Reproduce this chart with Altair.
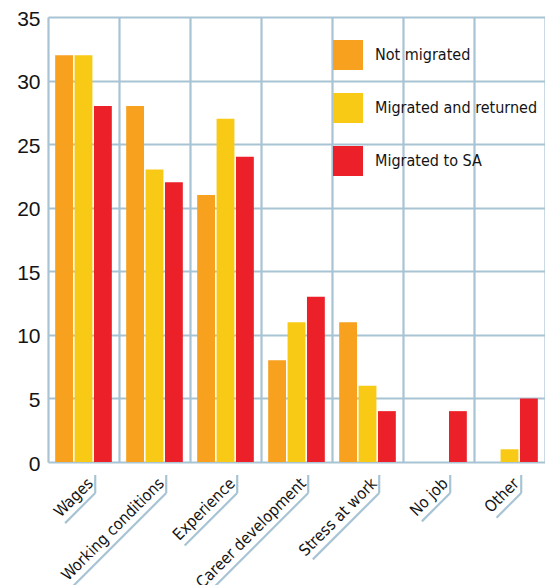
import math
import altair as alt
import pandas as pd

categories = ["Wages", "Working conditions", "Experience", "Career development",
              "Stress at work", "No job", "Other"]
series = ["Not migrated", "Migrated and returned", "Migrated to SA"]
not_migrated = [32, 28, 21, 8, 11, 0, 0]
migrated_returned = [32, 23, 27, 11, 6, 0, 1]
migrated_sa = [28, 22, 24, 13, 4, 4, 5]
colors = ["#F7A11F", "#F8CA16", "#EC2028"]
y_ticks = [0, 5, 10, 15, 20, 25, 30, 35]

GRID = "#A8C4D4"
TEXT = "#141414"
NARROW = "DejaVu Sans Condensed, sans-serif"
REGULAR = "Liberation Sans, Arial, Helvetica, sans-serif"
XFS = 16

W, H = 497, 445
YMAX = 35

rows = []
for s, vals in zip(series, [not_migrated, migrated_returned, migrated_sa]):
    for c, v in zip(categories, vals):
        rows.append({"cat": c, "series": s, "value": v})
df = pd.DataFrame(rows)

# decorative label underline brackets (lengths derived from the label texts)
widths = {"W": .989, "a": .613, "g": .635, "e": .615, "s": .521, "o": .612, "r": .411,
          "k": .579, "i": .278, "n": .634, "c": .55, "d": .635, "t": .392, " ": .318,
          "E": .632, "x": .592, "p": .635, "C": .698, "v": .592, "l": .278, "m": .974,
          "S": .635, "N": .748, "j": .278, "b": .635, "O": .787, "h": .634}
step = W / len(categories)
unit_y = H / YMAX
deco = []
for i, c in enumerate(categories):
    L = sum(widths.get(ch, .6) for ch in c) * 0.9 * XFS
    d = max(L - 6, 10) / math.sqrt(2)
    xv = i + 0.665
    y_top = -13 / unit_y
    y_bot = -31 / unit_y
    deco.append({"x": xv, "x2": xv, "y": y_top, "y2": y_bot})
    deco.append({"x": xv, "x2": xv - d / step, "y": y_bot, "y2": y_bot - d / unit_y})
deco_df = pd.DataFrame(deco)

bars = alt.Chart(df).mark_bar().encode(
    x=alt.X("cat:N", sort=categories,
            scale=alt.Scale(paddingInner=0, paddingOuter=0),
            axis=alt.Axis(title=None, tickBand="extent", grid=True, gridColor=GRID,
                          gridWidth=2.2, ticks=False, domain=False, labelAngle=-45,
                          labelAlign="right", labelBaseline="alphabetic",
                          labelFont=NARROW, labelFontSize=XFS, labelPadding=22,
                          labelOffset=10, labelColor=TEXT, labelOverlap=False,
                          labelLimit=400)),
    xOffset=alt.XOffset("series:N", sort=series,
                        scale=alt.Scale(paddingInner=0.08, paddingOuter=0.37)),
    y=alt.Y("value:Q", scale=alt.Scale(domain=[0, YMAX], nice=False),
            axis=alt.Axis(title=None, values=y_ticks, grid=True, gridColor=GRID,
                          gridWidth=2.2, domain=False, ticks=False, labelFont=REGULAR,
                          labelFontSize=21, labelPadding=8, labelOffset=2,
                          labelColor=TEXT)),
    color=alt.Color("series:N", sort=series,
                    scale=alt.Scale(domain=series, range=colors),
                    legend=alt.Legend(title=None, orient="none", legendX=285, legendY=23,
                                      symbolType="square", symbolSize=900,
                                      symbolStrokeWidth=0, symbolOpacity=1,
                                      labelFont=NARROW, labelFontSize=16,
                                      labelOffset=12, rowPadding=23, padding=0,
                                      labelColor=TEXT, labelLimit=300)),
)

brackets = alt.Chart(deco_df).mark_rule(color=GRID, strokeWidth=2.2, clip=False).encode(
    x=alt.X("x:Q", scale=alt.Scale(domain=[0, len(categories)], nice=False, zero=False),
            axis=None),
    x2="x2:Q",
    y=alt.Y("y:Q", scale=alt.Scale(domain=[0, YMAX], nice=False), axis=None),
    y2="y2:Q",
)

chart = alt.layer(bars, brackets).resolve_scale(x="independent", y="independent").properties(
    width=W, height=H,
    autosize=alt.AutoSizeParams(type="none"),
    padding={"left": 40, "top": 9, "right": 0, "bottom": 123},
).configure_view(stroke=None)

chart.save("out.html", embed_options={"renderer": "svg", "actions": False})
